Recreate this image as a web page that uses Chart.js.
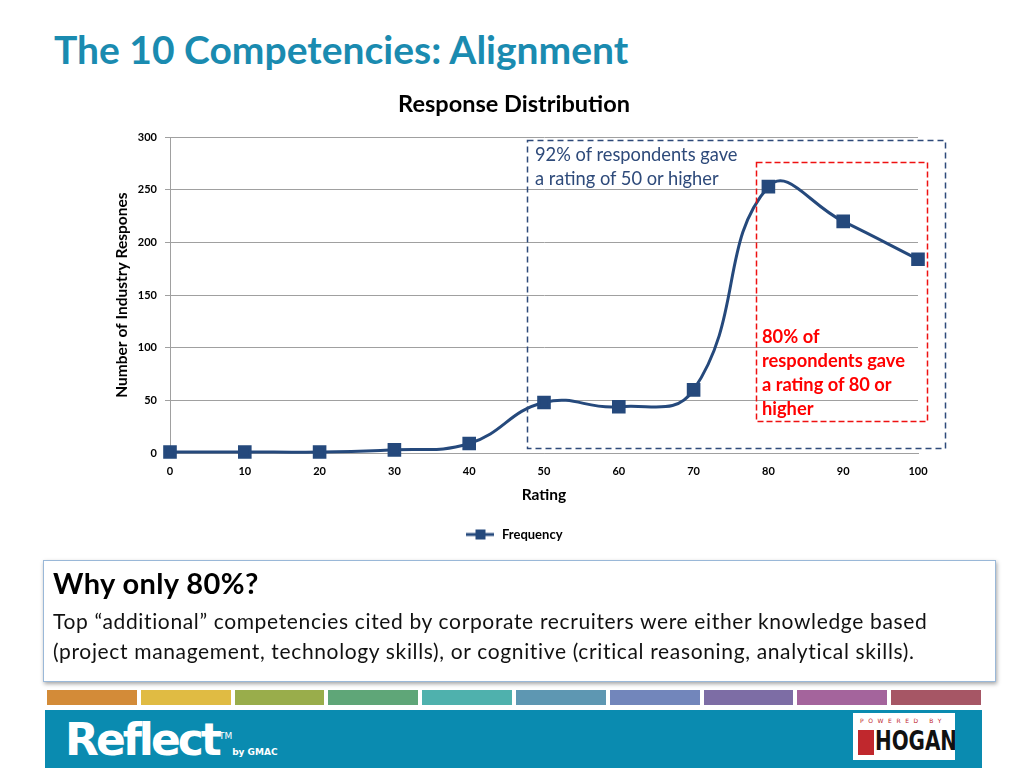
<!DOCTYPE html>
<html>
<head>
<meta charset="utf-8">
<script src="https://cdn.jsdelivr.net/npm/chart.js@4.4.0/dist/chart.umd.min.js"></script>
<style>
  body { margin: 0; width: 1024px; height: 768px; overflow: hidden; background: #fff; font-family: Lato, "Open Sans", sans-serif; position: relative; }
  .title { position: absolute; left: 54px; top: 26px; font-size: 39px; font-weight: bold; color: #1a8bb0; }
  #wrap { position: absolute; left: 0; top: 80px; width: 1024px; height: 480px; }
  svg.ann { position: absolute; left: 0; top: 0; width: 1024px; height: 560px; pointer-events: none; }
  .note1 { position: absolute; left: 535px; top: 142px; font-size: 18.3px; line-height: 24px; color: #2e4a7a; }
  .note2 { position: absolute; left: 762px; top: 324px; font-size: 18.3px; line-height: 24px; color: #ff0000; font-weight: bold; }
  .why { position: absolute; left: 43px; top: 560px; width: 953px; height: 122px; box-sizing: border-box; border: 1px solid #9ab8d8; box-shadow: 1px 2px 4px rgba(0,0,0,0.35); background: #fff; padding: 3px 9px; }
  .why h2 { margin: 0; font-size: 29px; letter-spacing: 0.4px; font-weight: bold; color: #000; line-height: 38px; }
  .why p { margin: 4px 0 0 0; font-size: 21px; letter-spacing: 0.65px; line-height: 30px; color: #111; }
  .strips { position: absolute; left: 47px; top: 690px; width: 934px; height: 15px; display: flex; gap: 4px; }
  .strips div { flex: 1; }
  .banner { position: absolute; left: 45px; top: 710px; width: 937px; height: 58px; background: #0a8bb0; }
  .reflect { position: absolute; left: 20px; top: 4px; color: #fff; font-size: 44px; font-weight: 900; font-family: "DejaVu Sans", sans-serif; letter-spacing: -3px; white-space: nowrap; }
  .reflect sup { font-size: 9px; letter-spacing: 0; font-weight: normal; }
  .reflect small { font-size: 9px; letter-spacing: 0; font-weight: bold; }
  .hogan { position: absolute; left: 808px; top: 3px; width: 102px; height: 47px; background: #fff; overflow: hidden; }
  .hogan .pb { position: absolute; left: 7px; top: 4px; font-size: 6px; letter-spacing: 4.6px; color: #c0282d; white-space: nowrap; font-family: "DejaVu Sans", sans-serif; }
  .hogan .hg { position: absolute; left: 22px; top: 12px; font-size: 27px; font-weight: bold; font-family: "Liberation Sans Narrow", "DejaVu Sans Condensed", sans-serif; color: #111; transform: scaleX(0.82); transform-origin: left top; white-space: nowrap; }
  .hogan .ic { position: absolute; left: 5px; top: 17px; width: 16px; height: 25px; background: #c0282d; }
</style>
</head>
<body>
<div class="title">The 10 Competencies: Alignment</div>
<div id="wrap"><canvas id="chart"></canvas></div>
<svg class="ann">
  <rect x="527.5" y="140.5" width="418" height="308" fill="none" stroke="#2e4a7a" stroke-width="1.5" stroke-dasharray="6,4"/>
  <rect x="756.5" y="162.5" width="171" height="259" fill="none" stroke="#ee1111" stroke-width="1.5" stroke-dasharray="6,3"/>
</svg>
<div class="note1">92% of respondents gave<br>a rating of 50 or higher</div>
<div class="note2">80% of<br>respondents gave<br>a rating of 80 or<br>higher</div>
<div class="why">
  <h2>Why only 80%?</h2>
  <p>Top “additional” competencies cited by corporate recruiters were either knowledge based<br>(project management, technology skills), or cognitive (critical reasoning, analytical skills).</p>
</div>
<div class="strips">
  <div style="background:#d38b38"></div><div style="background:#e0bb43"></div><div style="background:#99ad4b"></div>
  <div style="background:#5fa678"></div><div style="background:#4fb1ad"></div><div style="background:#5e97b2"></div>
  <div style="background:#7286bb"></div><div style="background:#7d6da5"></div><div style="background:#a4649c"></div>
  <div style="background:#a65665"></div>
</div>
<div class="banner">
  <div class="reflect">Reflect<sup>TM</sup><small>by GMAC</small></div>
  <div class="hogan"><div class="pb">POWERED BY</div><div class="ic"></div><div class="hg">HOGAN</div></div>
</div>
<script>
const ratings = [0, 10, 20, 30, 40, 50, 60, 70, 80, 90, 100];
const frequency = [1, 1, 1, 3, 9, 48, 44, 60, 253, 220, 184];
const yTicks = [0, 50, 100, 150, 200, 250, 300];

const lineColor = '#25497c';

// legend marker: line with a square on it
const marker = document.createElement('canvas');
marker.width = 28; marker.height = 12;
const mctx = marker.getContext('2d');
mctx.strokeStyle = lineColor; mctx.lineWidth = 3;
mctx.beginPath(); mctx.moveTo(0, 6); mctx.lineTo(28, 6); mctx.stroke();
mctx.fillStyle = lineColor; mctx.fillRect(9, 1, 10, 10);

const ctx = document.getElementById('chart').getContext('2d');
new Chart(ctx, {
  type: 'line',
  data: {
    labels: ratings,
    datasets: [{
      label: 'Frequency',
      data: ratings.map((r, i) => ({ x: r, y: frequency[i] })),
      borderColor: lineColor,
      backgroundColor: lineColor,
      borderWidth: 3,
      tension: 0.45,
      clip: false,
      pointStyle: 'rect',
      pointRadius: 7.5,
      pointHoverRadius: 7.5
    }]
  },
  options: {
    responsive: true,
    maintainAspectRatio: false,
    animation: false,
    layout: { padding: { left: 110, right: 106, top: 0, bottom: 9 } },
    plugins: {
      title: {
        display: true,
        text: 'Response Distribution',
        color: '#000',
        font: { family: 'Lato', size: 23.5, weight: 'bold' },
        padding: { top: 10, bottom: 19 }
      },
      legend: {
        position: 'bottom',
        labels: {
          usePointStyle: true,
          pointStyle: marker,
          pointStyleWidth: 30,
          color: '#000',
          font: { family: 'Lato', size: 13, weight: 'bold' },
          padding: 10
        }
      },
      tooltip: { enabled: false }
    },
    scales: {
      x: {
        type: 'linear',
        min: 0, max: 100,
        ticks: { stepSize: 10, color: '#000', font: { family: 'Lato', size: 11, weight: 'bold' }, padding: 4 },
        grid: { display: false },
        border: { color: '#a0a0a0', width: 1 },
        title: { display: true, text: 'Rating', color: '#000', font: { family: 'Lato', size: 15.5, weight: 'bold' }, padding: { top: 0, bottom: 14 } },
        afterFit: s => { s.height = 65; }
      },
      y: {
        min: 0, max: 300,
        afterBuildTicks: s => { s.ticks = yTicks.map(v => ({ value: v })); },
        ticks: { color: '#000', font: { family: 'Lato', size: 11, weight: 'bold' }, padding: 8 },
        grid: { color: '#a0a0a0', tickLength: 5 },
        border: { color: '#a0a0a0' },
        title: { display: true, text: 'Number of Industry Respones', color: '#000', font: { family: 'Lato', size: 15.5, weight: 'bold' }, padding: { top: 3, bottom: 0 } },
        afterFit: s => { s.width = 60; }
      }
    }
  }
});
</script>
</body>
</html>
